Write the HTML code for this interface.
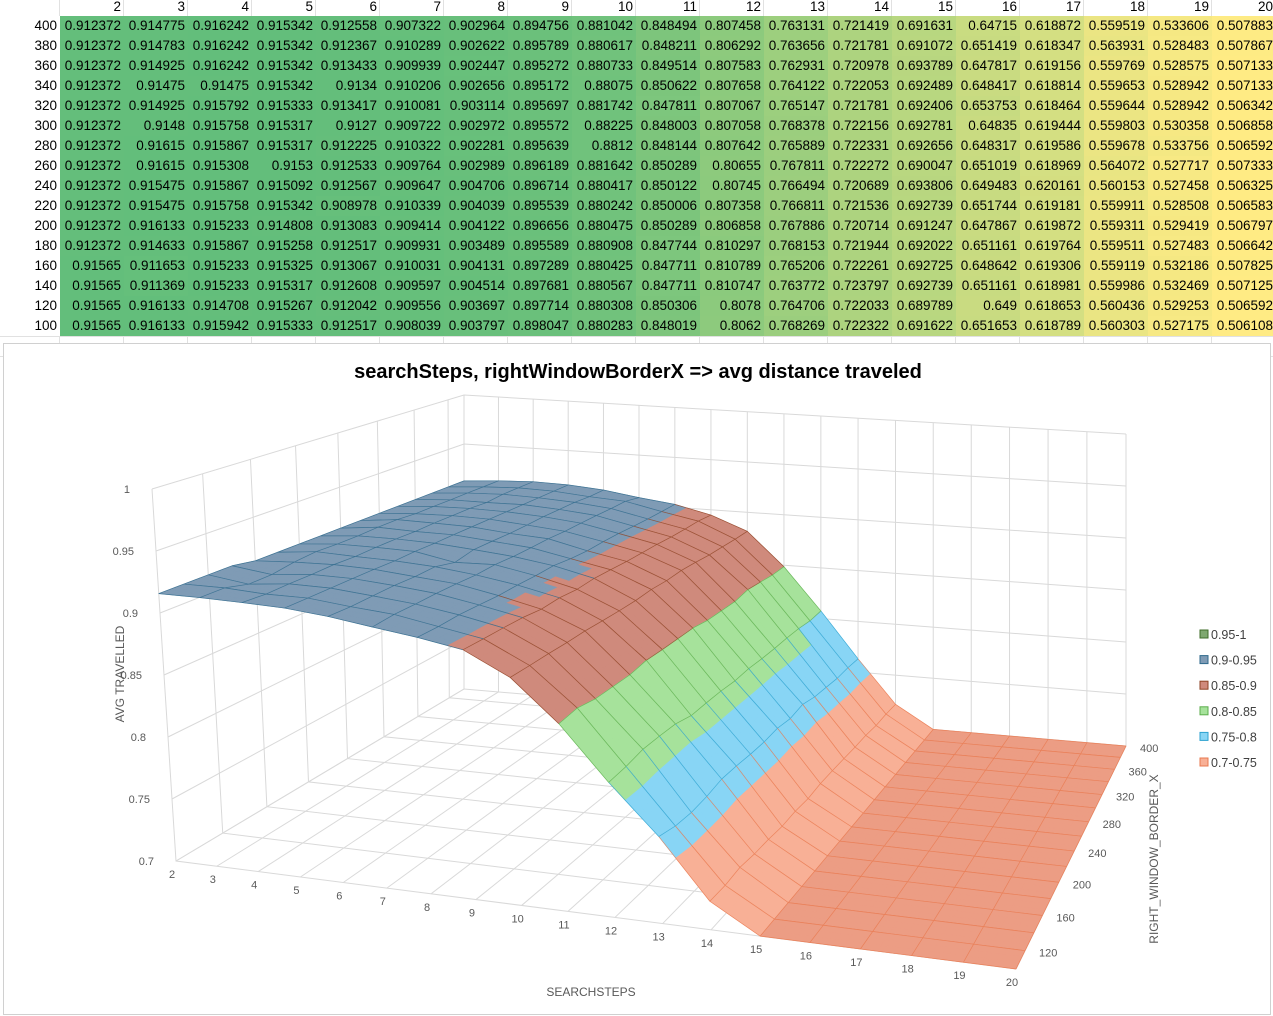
<!DOCTYPE html>
<html><head><meta charset="utf-8">
<style>
body{margin:0;width:1273px;height:1012px;overflow:hidden;background:#fff;font-family:"Liberation Sans",sans-serif;position:relative}
#sheet{position:absolute;left:0;top:0;width:1273px;height:343px}
.c{position:absolute;height:20px;line-height:20px;font-size:13.5px;text-align:right;box-sizing:border-box;padding-right:3px;color:#000}
#chartbox{position:absolute;left:3px;top:343px;width:1268px;height:672px;border:1px solid #d0d0d0;background:#fff;box-sizing:border-box}
</style></head><body>
<div id="sheet"></div>
<div id="chartbox">
<svg id="chart" width="1268" height="672" viewBox="3 343 1268 672" style="position:absolute;left:0;top:0"></svg>
</div>
<script>
const steps=[2,3,4,5,6,7,8,9,10,11,12,13,14,15,16,17,18,19,20];
const borders=[400,380,360,340,320,300,280,260,240,220,200,180,160,140,120,100];
const r400=[0.912372,0.914775,0.916242,0.915342,0.912558,0.907322,0.902964,0.894756,0.881042,0.848494,0.807458,0.763131,0.721419,0.691631,0.64715,0.618872,0.559519,0.533606,0.507883];
const r380=[0.912372,0.914783,0.916242,0.915342,0.912367,0.910289,0.902622,0.895789,0.880617,0.848211,0.806292,0.763656,0.721781,0.691072,0.651419,0.618347,0.563931,0.528483,0.507867];
const r360=[0.912372,0.914925,0.916242,0.915342,0.913433,0.909939,0.902447,0.895272,0.880733,0.849514,0.807583,0.762931,0.720978,0.693789,0.647817,0.619156,0.559769,0.528575,0.507133];
const r340=[0.912372,0.91475,0.91475,0.915342,0.9134,0.910206,0.902656,0.895172,0.88075,0.850622,0.807658,0.764122,0.722053,0.692489,0.648417,0.618814,0.559653,0.528942,0.507133];
const r320=[0.912372,0.914925,0.915792,0.915333,0.913417,0.910081,0.903114,0.895697,0.881742,0.847811,0.807067,0.765147,0.721781,0.692406,0.653753,0.618464,0.559644,0.528942,0.506342];
const r300=[0.912372,0.9148,0.915758,0.915317,0.9127,0.909722,0.902972,0.895572,0.88225,0.848003,0.807058,0.768378,0.722156,0.692781,0.64835,0.619444,0.559803,0.530358,0.506858];
const r280=[0.912372,0.91615,0.915867,0.915317,0.912225,0.910322,0.902281,0.895639,0.8812,0.848144,0.807642,0.765889,0.722331,0.692656,0.648317,0.619586,0.559678,0.533756,0.506592];
const r260=[0.912372,0.91615,0.915308,0.9153,0.912533,0.909764,0.902989,0.896189,0.881642,0.850289,0.80655,0.767811,0.722272,0.690047,0.651019,0.618969,0.564072,0.527717,0.507333];
const r240=[0.912372,0.915475,0.915867,0.915092,0.912567,0.909647,0.904706,0.896714,0.880417,0.850122,0.80745,0.766494,0.720689,0.693806,0.649483,0.620161,0.560153,0.527458,0.506325];
const r220=[0.912372,0.915475,0.915758,0.915342,0.908978,0.910339,0.904039,0.895539,0.880242,0.850006,0.807358,0.766811,0.721536,0.692739,0.651744,0.619181,0.559911,0.528508,0.506583];
const r200=[0.912372,0.916133,0.915233,0.914808,0.913083,0.909414,0.904122,0.896656,0.880475,0.850289,0.806858,0.767886,0.720714,0.691247,0.647867,0.619872,0.559311,0.529419,0.506797];
const r180=[0.912372,0.914633,0.915867,0.915258,0.912517,0.909931,0.903489,0.895589,0.880908,0.847744,0.810297,0.768153,0.721944,0.692022,0.651161,0.619764,0.559511,0.527483,0.506642];
const r160=[0.91565,0.911653,0.915233,0.915325,0.913067,0.910031,0.904131,0.897289,0.880425,0.847711,0.810789,0.765206,0.722261,0.692725,0.648642,0.619306,0.559119,0.532186,0.507825];
const r140=[0.91565,0.911369,0.915233,0.915317,0.912608,0.909597,0.904514,0.897681,0.880567,0.847711,0.810747,0.763772,0.723797,0.692739,0.651161,0.618981,0.559986,0.532469,0.507125];
const r120=[0.91565,0.916133,0.914708,0.915267,0.912042,0.909556,0.903697,0.897714,0.880308,0.850306,0.8078,0.764706,0.722033,0.689789,0.649,0.618653,0.560436,0.529253,0.506592];
const r100=[0.91565,0.916133,0.915942,0.915333,0.912517,0.908039,0.903797,0.898047,0.880283,0.848019,0.8062,0.768269,0.722322,0.691622,0.651653,0.618789,0.560303,0.527175,0.506108];
const values=[r400,r380,r360,r340,r320,r300,r280,r260,r240,r220,r200,r180,r160,r140,r120,r100];
const zTicks=[0.7,0.75,0.8,0.85,0.9,0.95,1];
const depthTicks=[120,160,200,240,280,320,360,400];
const bandLabels=['0.95-1','0.9-0.95','0.85-0.9','0.8-0.85','0.75-0.8','0.7-0.75'];
const bandFill=['#7fa870','#7f9bb5','#cf8a7c','#a6e29b','#88d5f5','#f8b096'];
const bandStroke=['#3f6d2a','#2f6a8c','#8e4324','#5cae4c','#2ea2d0','#e8794f'];

// ---- spreadsheet ----
const sheet=document.getElementById('sheet');
let all=values.flat();const vmin=Math.min(...all),vmax=Math.max(...all);
function cellColor(v){const t=(v-vmin)/(vmax-vmin);
 const a=[255,235,132],b=[99,190,123];
 return 'rgb('+a.map((x,i)=>Math.round(x+(b[i]-x)*t)).join(',')+')';}
function mk(cls,x,y,w,txt,bg,name){const d=document.createElement('div');d.className=cls;
 d.style.left=x+'px';d.style.top=y+'px';d.style.width=w+'px';if(bg)d.style.background=bg;d.textContent=txt;
 
 
 sheet.appendChild(d);return d;}
for(let i=0;i<=17;i++){const g=document.createElement('div');g.style.cssText='position:absolute;left:0;width:1273px;height:1px;background:#e1e1e1;top:'+(16+20*i)+'px';
 
 
 sheet.appendChild(g);}
for(let j=0;j<=19;j++){const g=document.createElement('div');g.style.cssText='position:absolute;top:0;height:343px;width:1px;background:#e1e1e1;left:'+(60+64*j-1)+'px';
 
 
 sheet.appendChild(g);}
steps.forEach((s,j)=>{mk('c',60+64*j,-3,64,String(s),null,'column-header');});
borders.forEach((b,i)=>{
 mk('c',0,16+20*i,60,String(b),'#fff','row-header');
 values[i].forEach((v,j)=>mk('c',60+64*j,16+20*i,64,String(v),cellColor(v),'data-cell'));
});

// ---- chart ----
const svg=document.getElementById('chart');const NS='http://www.w3.org/2000/svg';
function el(tag,attrs,name){const e=document.createElementNS(NS,tag);for(const k in attrs)e.setAttribute(k,attrs[k]);
 
 
 svg.appendChild(e);return e;}
const FL=[175,860],FR=[1015,968],BR=[1125,745],BL=[463,688];
const NS_=steps.length-1,NR=borders.length-1;
function proj(u,v,z){let a=u/NS_,b=v/NR;
 a=a-0.1336*a*(1-a)*(1-0.5*b);
 b=b+0.25*b*(1-b);
 const x=(1-a)*(1-b)*FL[0]+a*(1-b)*FR[0]+a*b*BR[0]+(1-a)*b*BL[0];
 const y=(1-a)*(1-b)*FL[1]+a*(1-b)*FR[1]+a*b*BR[1]+(1-a)*b*BL[1];
 const zc=Math.min(Math.max(z,0.7),1);
 const sc=1240-b*260+a*60;
 return [x-(zc-0.7)*80*(1-b)*(1-a*0.5), y-(zc-0.7)*sc];}
function stepIdx(s){return steps.indexOf(s);}
function depthIdx(r){return (r-100)/20;}
function val(u,v){return values[NR-v][u];}
function vAt(u,v){const u0=Math.min(Math.floor(u),NS_-1),v0=Math.min(Math.floor(v),NR-1);const fu=u-u0,fv=v-v0;
 const c=(a,b)=>Math.max(val(a,b),0.7);
 return (1-fu)*(1-fv)*c(u0,v0)+fu*(1-fv)*c(u0+1,v0)+fu*fv*c(u0+1,v0+1)+(1-fu)*fv*c(u0,v0+1);}
const grid='#d9d9d9';
zTicks.forEach(z=>{const a=proj(0,0,z),b=proj(0,NR,z),c=proj(NS_,NR,z);
 el('polyline',{points:[a,b,c].map(p=>p.join(',')).join(' '),fill:'none',stroke:grid,'stroke-width':1},'z-gridline');});
for(let u=0;u<=NS_;u++){const a=proj(u,0,0.7),b=proj(u,NR,0.7),c=proj(u,NR,1);
 el('polyline',{points:[a,b,c].map(p=>p.join(',')).join(' '),fill:'none',stroke:grid,'stroke-width':1},'step-gridline');}
for(let v=0;v<=NR;v+=2){const a=proj(NS_,v,0.7),b=proj(0,v,0.7),c=proj(0,v,1);
 el('polyline',{points:[a,b,c].map(p=>p.join(',')).join(' '),fill:'none',stroke:grid,'stroke-width':1},'depth-gridline');}
function band(z){if(z>=0.95)return 0;if(z>=0.9)return 1;if(z>=0.85)return 2;if(z>=0.8)return 3;if(z>=0.75)return 4;return 5;}
const SUB=3;
for(let v=NR-1;v>=0;v--){
 for(let u=0;u<NS_;u++){
  const flat=[val(u,v),val(u+1,v),val(u+1,v+1),val(u,v+1)].every(z=>z<0.7);
  for(let j=SUB-1;j>=0;j--)for(let i=0;i<SUB;i++){
   const u0=u+i/SUB,u1=u+(i+1)/SUB,v0=v+j/SUB,v1=v+(j+1)/SUB;
   const zs=[vAt(u0,v0),vAt(u1,v0),vAt(u1,v1),vAt(u0,v1)];
   const k=band(zs.reduce((a,b)=>a+b,0)/4);
   const col=flat?'#ec9d84':bandFill[k];
   const pts=[proj(u0,v0,zs[0]),proj(u1,v0,zs[1]),proj(u1,v1,zs[2]),proj(u0,v1,zs[3])];
   el('polygon',{points:pts.map(p=>p.join(',')).join(' '),fill:col,stroke:col,'stroke-width':0.6},'surface-patch');
  }
 }
 for(let u=0;u<=NS_;u++){const a=proj(u,v,val(u,v)),b=proj(u,v+1,val(u,v+1));
  const k=band((Math.max(val(u,v),0.7)+Math.max(val(u,v+1),0.7))/2);
  el('line',{x1:a[0],y1:a[1],x2:b[0],y2:b[1],stroke:bandStroke[k],'stroke-width':0.7,'stroke-opacity':0.8},'surface-mesh');}
 for(let u=0;u<NS_;u++){for(const vv of [v,v+1]){const a=proj(u,vv,val(u,vv)),b=proj(u+1,vv,val(u+1,vv));
  const k=band((Math.max(val(u,vv),0.7)+Math.max(val(u+1,vv),0.7))/2);
  el('line',{x1:a[0],y1:a[1],x2:b[0],y2:b[1],stroke:bandStroke[k],'stroke-width':0.7,'stroke-opacity':0.8},'surface-mesh');}}
}
zTicks.forEach(z=>{const p=proj(0,0,z);
 const t=el('text',{x:p[0]-22,y:p[1]+4,'font-size':11,fill:'#595959','text-anchor':'end'},'z-tick-label');t.textContent=String(z);});
steps.forEach(s=>{const p=proj(stepIdx(s),0,0.7);
 const t=el('text',{x:p[0]-4,y:p[1]+17,'font-size':11,fill:'#595959','text-anchor':'middle'},'x-tick-label');t.textContent=String(s);});
depthTicks.forEach(r=>{const p=proj(NS_,depthIdx(r),0.7);
 const t=el('text',{x:p[0]+14,y:p[1]+6,'font-size':11,fill:'#595959','text-anchor':'start'},'depth-tick-label');t.textContent=String(r);});
let t=el('text',{x:637,y:377,'font-size':20,'font-weight':'bold',fill:'#000','text-anchor':'middle'},'chart-title');t.textContent='searchSteps, rightWindowBorderX => avg distance traveled';
t=el('text',{x:590,y:995,'font-size':12,fill:'#595959','text-anchor':'middle'},'x-axis-title');t.textContent='SEARCHSTEPS';
t=el('text',{x:123,y:673,'font-size':12,fill:'#595959','text-anchor':'middle',transform:'rotate(-90 123 673)'},'z-axis-title');t.textContent='AVG TRAVELLED';
t=el('text',{x:1157,y:858,'font-size':12,fill:'#595959','text-anchor':'middle',transform:'rotate(-90 1157 858)'},'depth-axis-title');t.textContent='RIGHT_WINDOW_BORDER_X';
bandLabels.forEach((lab,i)=>{const y=634+25.6*i;
 el('rect',{x:1199,y:y-5,width:8,height:8,fill:bandFill[i],stroke:bandStroke[i],'stroke-width':1},'legend-swatch');
 const tt=el('text',{x:1210,y:y+4,'font-size':12.5,fill:'#404040'},'legend-entry');tt.textContent=lab;});
</script>
</body></html>
